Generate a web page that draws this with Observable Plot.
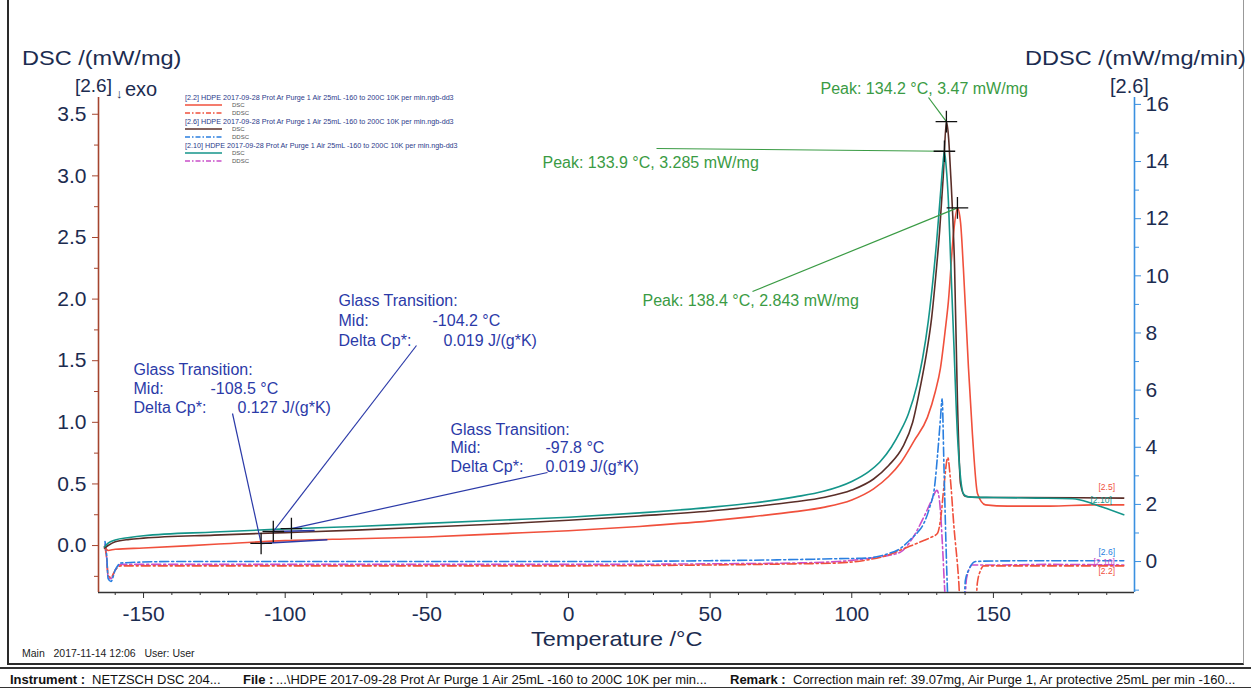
<!DOCTYPE html>
<html><head><meta charset="utf-8">
<script src="https://cdn.jsdelivr.net/npm/d3@7"></script>
<script src="https://cdn.jsdelivr.net/npm/@observablehq/plot@0.6"></script>
<style>
body{margin:0;background:#fff;font-family:"Liberation Sans",Arial,sans-serif;}
#wrap{position:relative;width:1251px;height:688px;overflow:hidden;background:#fff}
#wrap svg{position:absolute;left:0;top:0;overflow:visible}
.abs{position:absolute;white-space:nowrap;line-height:1;transform-origin:0 50%}
.ttl{font-size:21px;color:#1c2c50;transform:scaleX(1.12)}
#border{position:absolute;left:7px;top:0px;width:1237px;height:665px;border:2px solid #2a2a2a;border-top:none;border-right:1px solid #999;box-sizing:border-box}
#footer{position:absolute;left:0;top:667px;width:1251px;height:21px;border-top:2px solid #333;border-bottom:1px solid #333;box-sizing:border-box;font-size:13px;color:#111}
#footer span{position:absolute;top:3px;white-space:nowrap}
#footer b{font-weight:bold}
.leg{position:absolute;font-size:7.2px;color:#2b3a8a;white-space:nowrap;line-height:1}
</style></head><body><div id="wrap"><div id="border"></div></div>
<script>
// ---------------- data ----------------
// DSC curves (mW/mg) vs temperature (°C)
const dscRedT   = [-163.8,-162.5,-160,-150,-125,-100,-75,-50,-25,0,25,50,65,80,90,100,107.7,113,117.2,122,126.7,129.5,131.3,133,134.1,135.9,137.3,138.4,139.4,141.2,142.6,144.4,147.2,155,170,185,196];
const dscRedV   = [-0.01,-0.04,-0.03,-0.02,0.01,0.04,0.055,0.07,0.095,0.12,0.155,0.2,0.235,0.275,0.31,0.37,0.46,0.56,0.67,0.85,1.04,1.25,1.44,1.75,1.98,2.53,2.74,2.62,2.25,1.44,0.9,0.42,0.33,0.32,0.32,0.33,0.33];
const dscBrownT = [-163.8,-162.5,-160,-155,-150,-125,-100,-75,-50,-25,0,25,50,65,80,90,100,107.7,113,118,121.5,124.3,126.3,128.2,129.7,131,132.3,133.4,134.2,134.8,136.3,137.3,138.4,140,145,160,180,196];
const dscBrownV = [-0.02,0.0,0.03,0.05,0.06,0.085,0.105,0.125,0.15,0.175,0.205,0.24,0.28,0.315,0.355,0.39,0.45,0.54,0.65,0.8,1.0,1.3,1.55,1.85,2.2,2.55,3.0,3.44,3.3,3.06,2.25,1.17,0.5,0.4,0.39,0.39,0.388,0.385];
const dscTealT  = [-163.8,-162.5,-160,-155,-150,-125,-100,-75,-50,-25,0,25,50,65,80,90,100,106,110,114,117,120,123,125,127,128.5,130,131.3,132.2,132.7,133.3,134.1,135,135.9,137.3,138.4,139.4,141,150,165,178,185,190,196];
const dscTealV  = [-0.01,0.02,0.045,0.065,0.08,0.11,0.135,0.155,0.18,0.205,0.23,0.265,0.31,0.345,0.395,0.44,0.52,0.6,0.68,0.8,0.92,1.07,1.3,1.52,1.82,2.12,2.48,2.85,3.1,3.2,3.08,2.8,2.25,1.72,0.9,0.55,0.42,0.395,0.39,0.385,0.38,0.34,0.3,0.25];
// DDSC curves (mW/mg/min) vs temperature (°C)
const ddscRedT  = [-163.6,-163,-162.5,-161.5,-160,-158,-140,-100,-50,0,50,80,95,105,112,119.6,125,128,130.2,131.5,132.5,133.9,134.8,136,137.8,138.5,143.6,144.3,145.5,146.5,160,196];
const ddscRedV  = [0.5,0.1,-0.5,-0.55,-0.3,-0.15,-0.15,-0.15,-0.15,-0.15,-0.12,-0.08,-0.05,0.05,0.2,0.5,0.72,0.85,0.98,1.6,2.6,3.64,2.9,1.3,-0.77,-2,-2,-0.77,-0.3,-0.15,-0.15,-0.15];
const ddscBlueT = [-163.6,-163,-162.5,-161.5,-160,-158,-140,-100,-50,0,50,80,95,105,112,117,121,123.5,125.4,127.5,129.2,130.5,131.3,131.9,132.5,133.2,133.7,134.3,139.4,140.1,141.5,143.7,150,170,196];
const ddscBlueV = [0.7,0.2,-0.6,-0.7,-0.3,-0.05,0,0,0,0,0.03,0.07,0.1,0.12,0.25,0.45,0.8,1.05,1.33,1.9,2.6,4.0,5.0,5.7,3.5,0.8,-0.8,-2,-2,-0.66,-0.25,0,0.02,0.03,0.03];
const ddscMagT  = [-163.6,-163,-162.5,-161.5,-160,-158,-140,-100,-50,0,50,80,95,105,112,117.2,121,125.4,128,130.1,131,132,132.7,133.5,139.5,140.5,142.5,150,170,196];
const ddscMagV  = [0.6,0.1,-0.55,-0.6,-0.3,-0.1,-0.1,-0.1,-0.1,-0.1,-0.08,-0.05,0.0,0.1,0.2,0.33,0.75,1.55,2.1,2.49,2.1,0.6,-0.8,-2,-2,-0.6,-0.12,-0.12,-0.1,-0.12];

// peaks and glass transitions
const peakT = [133.4, 132.7, 137.3];
const peakV = [3.44, 3.2, 2.74];
const peakLabels = ["Peak: 134.2 °C, 3.47 mW/mg", "Peak: 133.9 °C, 3.285 mW/mg", "Peak: 138.4 °C, 2.843 mW/mg"];
const gtT = [-104.2, -108.5, -97.8];
const gtV = [0.114, 0.017, 0.138];
const gtMid = ["-104.2 °C", "-108.5 °C", "-97.8 °C"];
const gtCp = ["0.019 J/(g*K)", "0.127 J/(g*K)", "0.019 J/(g*K)"];
const gtTangentEndT = [-89.6, -85.1, null];
const gtTangentEndV = [0.122, 0.047, null];

// axis ticks
const xTicks = [-150,-100,-50,0,50,100,150];
const xMinor = [-160,-140,-130,-120,-110,-90,-80,-70,-60,-40,-30,-20,-10,10,20,30,40,60,70,80,90,110,120,130,140,160,170,180,190];
const dscTicks = [0,0.5,1,1.5,2,2.5,3,3.5];
const dscMinor = [-0.25,0.25,0.75,1.25,1.75,2.25,2.75,3.25];
const ddscTicks = [0,2,4,6,8,10,12,14,16];
const ddscMinor = [-1,1,3,5,7,9,11,13,15];

// legend / series names
const seriesIds = ["[2.2]", "[2.6]", "[2.10]"];
const fileName = "HDPE 2017-09-28 Prot Ar Purge 1 Air 25mL -160 to 200C 10K per min.ngb-dd3";

// ---------------- layout / style ----------------
const X0 = -165.9, X1 = 199.8, Y0 = -0.381, Y1 = 3.636;
const ddscToDsc = r => -0.1299 + 0.23187 * r;
const dscToDdsc = L => (L + 0.1299) / 0.23187;
const C = {red:"#f0503c", brown:"#5a2e28", teal:"#14958a", blue:"#2a7fe0", mag:"#c94fc9",
  axisL:"#a5452f", axisR:"#3a90e0", text:"#1c2c50", green:"#3a9b44", gtblue:"#2b3aa8"};
const DASH = "9,3,2,3";
const pxT = x => (x - 98) * (X1 - X0) / 1036 + X0;
const pxV = y => (592 - y) * (Y1 - Y0) / 495 + Y0;

const rows = (T, V, f = v => v) => T.map((t, i) => ({T: t, v: f(V[i])}));
const peaks = peakT.map((t, i) => ({T: t, v: peakV[i], label: peakLabels[i]}));
const peakTextPos = [[820, 88], [542, 162], [642, 300]].map(([x, y]) => ({T: pxT(x), v: pxV(y)}));
const peakLeadPos = [[928, 97], [656, 148], [752, 291]].map(([x, y]) => ({T: pxT(x), v: pxV(y)}));
const peakLinks = peaks.map((p, i) => ({x1: peakLeadPos[i].T, y1: peakLeadPos[i].v, x2: p.T, y2: p.v}));
const peakTexts = peaks.map((p, i) => ({...peakTextPos[i], label: p.label}));

const gts = gtT.map((t, i) => ({T: t, v: gtV[i]}));
const gtBlockPos = [[338, 432, 443, 300, 320, 340], [133, 210, 237, 369, 388, 407], [450, 545, 545, 429, 447, 466]];
const gtLeadPos = [[416, 345], [232, 413], [547, 472]];
const gtTexts = [];
gtBlockPos.forEach(([xl, xm, xc, y1, y2, y3], i) => {
  gtTexts.push({T: pxT(xl), v: pxV(y1), s: "Glass Transition:"});
  gtTexts.push({T: pxT(xl), v: pxV(y2), s: "Mid:"});
  gtTexts.push({T: pxT(xm), v: pxV(y2), s: gtMid[i]});
  gtTexts.push({T: pxT(xl), v: pxV(y3), s: "Delta Cp*:"});
  gtTexts.push({T: pxT(xc), v: pxV(y3), s: gtCp[i]});
});
const gtLinks = gts.map((g, i) => ({x1: pxT(gtLeadPos[i][0]), y1: pxV(gtLeadPos[i][1]), x2: g.T, y2: g.v}));
const gtTangents = gts.map((g, i) => ({x1: g.T, y1: g.v, x2: gtTangentEndT[i], y2: gtTangentEndV[i]})).filter(d => d.x2 != null);

const endLabels = [
  {T: pxT(1098), v: pxV(487), s: "[2.5]", c: C.red},
  {T: pxT(1090), v: pxV(500), s: "[2.10]", c: C.teal},
  {T: pxT(1098), v: pxV(552), s: "[2.6]", c: C.blue},
  {T: pxT(1093), v: pxV(562), s: "[2.10]", c: C.mag},
  {T: pxT(1098), v: pxV(571), s: "[2.2]", c: C.red}
];

const lineOpts = (stroke, dash) => ({x: "T", y: "v", stroke, strokeWidth: 1.6, curve: "monotone-x", clip: true, strokeDasharray: dash});
const axisCommon = {fontSize: 21, fill: C.text};

const chart = Plot.plot({
  width: 1251, height: 666,
  marginLeft: 98, marginRight: 117, marginTop: 97, marginBottom: 74,
  x: {domain: [X0, X1], label: null},
  y: {domain: [Y0, Y1], label: null},
  style: {fontFamily: "'Liberation Sans', Arial, sans-serif", color: C.text, background: "transparent", overflow: "visible"},
  marks: [
    // axis lines
    Plot.ruleY([Y0], {stroke: "#333", strokeWidth: 1.5}),
    Plot.ruleX([X0], {stroke: C.axisL, strokeWidth: 1.6}),
    Plot.ruleX([X1], {stroke: C.axisR, strokeWidth: 1.6}),
    Plot.axisX(xTicks, {...axisCommon, stroke: "#333", tickSize: 6, tickPadding: 8, tickFormat: d => String(d), label: null}),
    Plot.axisX(xMinor, {stroke: "#333", tickSize: 3, tickFormat: () => "", label: null}),
    Plot.axisY(dscTicks, {...axisCommon, anchor: "left", stroke: C.axisL, tickSize: 6, tickPadding: 6, tickFormat: d => d.toFixed(1), label: null}),
    Plot.axisY(dscMinor, {anchor: "left", stroke: C.axisL, tickSize: 4, tickFormat: () => "", label: null}),
    Plot.axisY(ddscTicks.map(ddscToDsc), {...axisCommon, anchor: "right", stroke: C.axisR, tickSize: 6, tickPadding: 5, tickFormat: d => String(Math.round(dscToDdsc(d))), label: null}),
    Plot.axisY(ddscMinor.map(ddscToDsc), {anchor: "right", stroke: C.axisR, tickSize: 4, tickFormat: () => "", label: null}),
    // DDSC (dash-dot)
    Plot.line(rows(ddscMagT, ddscMagV, ddscToDsc), lineOpts(C.mag, DASH)),
    Plot.line(rows(ddscRedT, ddscRedV, ddscToDsc), lineOpts(C.red, DASH)),
    Plot.line(rows(ddscBlueT, ddscBlueV, ddscToDsc), lineOpts(C.blue, DASH)),
    // DSC (solid)
    Plot.line(rows(dscRedT, dscRedV), lineOpts(C.red)),
    Plot.line(rows(dscBrownT, dscBrownV), lineOpts(C.brown)),
    Plot.line(rows(dscTealT, dscTealV), lineOpts(C.teal)),
    // glass transition annotations
    Plot.link(gtTangents, {x1: "x1", y1: "y1", x2: "x2", y2: "y2", stroke: C.gtblue, strokeWidth: 1.6}),
    Plot.link(gtLinks, {x1: "x1", y1: "y1", x2: "x2", y2: "y2", stroke: C.gtblue, strokeWidth: 1.2}),
    Plot.text(gtTexts, {x: "T", y: "v", text: "s", textAnchor: "start", fill: C.gtblue, fontSize: 16}),
    Plot.dot(gts, {x: "T", y: "v", symbol: "plus", r: 7, stroke: "#111", strokeWidth: 1.3}),
    // peak annotations
    Plot.link(peakLinks, {x1: "x1", y1: "y1", x2: "x2", y2: "y2", stroke: C.green, strokeWidth: 1.2}),
    Plot.text(peakTexts, {x: "T", y: "v", text: "label", textAnchor: "start", fill: C.green, fontSize: 16}),
    Plot.dot(peaks, {x: "T", y: "v", symbol: "plus", r: 7, stroke: "#111", strokeWidth: 1.3}),
    // curve end labels
    Plot.text(endLabels, {x: "T", y: "v", text: "s", fill: "c", textAnchor: "start", fontSize: 8.5})
  ]
});
const wrap = document.getElementById("wrap");
wrap.appendChild(chart);

function addText(txt, css, cls = "abs ttl") {
  const d = document.createElement("div");
  d.className = cls; d.textContent = txt; d.style.cssText = css; wrap.appendChild(d); return d;
}
addText("DSC /(mW/mg)", "left:22px;top:47px;");
addText("[2.6]", "left:75px;top:76px;font-size:19px;transform:none");
addText("↓", "left:116px;top:87px;font-size:13px;transform:none");
addText("exo", "left:125px;top:79px;font-size:20px;transform:none");
addText("DDSC /(mW/mg/min)", "left:1025px;top:47px;");
addText("[2.6]", "left:1110px;top:76px;font-size:20px;transform:none");
addText("Temperature /°C", "left:531px;top:628px;");
addText("Main   2017-11-14 12:06   User: User", "left:22px;top:648px;font-size:10.5px;white-space:pre;color:#222", "abs");

// legend
const legStyles = [[C.red, C.red], [C.brown, C.blue], [C.teal, C.mag]];
let ly = 94;
seriesIds.forEach((id, i) => {
  const h = document.createElement("div"); h.className = "leg";
  h.style.cssText = `left:185px;top:${ly}px;`;
  h.textContent = `${id} ${fileName}`; wrap.appendChild(h);
  [["DSC", legStyles[i][0], null], ["DDSC", legStyles[i][1], "5,2,1.5,2"]].forEach(([name, col, dash], k) => {
    const y = ly + 8 + k * 8;
    const s = document.createElementNS("http://www.w3.org/2000/svg", "svg");
    s.setAttribute("width", 40); s.setAttribute("height", 4);
    s.style.cssText = `position:absolute;left:185px;top:${y + 1}px;`;
    s.innerHTML = `<line x1="0" y1="2" x2="37" y2="2" stroke="${col}" stroke-width="1.3" ${dash ? `stroke-dasharray="${dash}"` : ""}/>`;
    wrap.appendChild(s);
    const t = document.createElement("div"); t.className = "leg";
    t.style.cssText = `left:232px;top:${y}px;font-size:6px;color:#555;`;
    t.textContent = name; wrap.appendChild(t);
  });
  ly += 24;
});

// footer
const f = document.createElement("div"); f.id = "footer";
f.innerHTML = `<span style="left:10px"><b>Instrument :</b></span><span style="left:92px">NETZSCH DSC 204...</span>` +
  `<span style="left:243px"><b>File :</b></span><span style="left:276px">...\\HDPE 2017-09-28 Prot Ar Purge 1 Air 25mL -160 to 200C 10K per min...</span>` +
  `<span style="left:730px"><b>Remark :</b></span><span style="left:793px">Correction main ref: 39.07mg, Air Purge 1, Ar protective 25mL per min -160...</span>`;
wrap.appendChild(f);
</script></body></html>
